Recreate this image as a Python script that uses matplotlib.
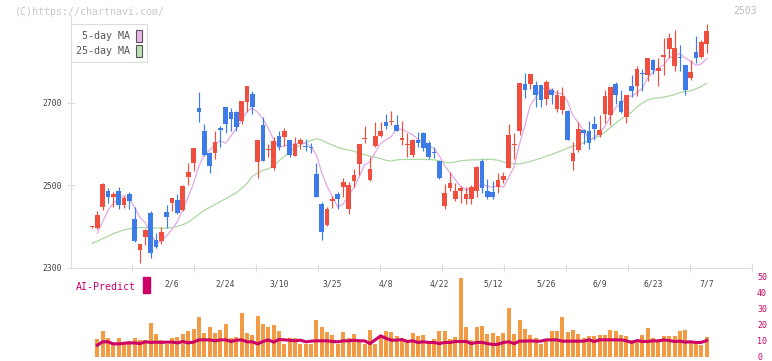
import numpy as np
import pandas as pd
import matplotlib
matplotlib.use("Agg")
import matplotlib.pyplot as plt
from matplotlib.patches import Patch, Rectangle

plt.rcParams['font.family'] = ['DejaVu Sans Mono']

# daily prices, oldest first (red = close above open, blue = close below open)
opens = [2399, 2398, 2449, 2487, 2472, 2487, 2453, 2479, 2419, 2344,
         2376, 2433, 2368, 2366, 2436, 2458, 2465, 2441, 2521, 2554,
         2688, 2632, 2579, 2578, 2639, 2690, 2677, 2678, 2657, 2701,
         2722, 2558, 2647, 2585, 2543, 2620, 2618, 2610, 2572, 2601,
         2596, 2593, 2528, 2454, 2404, 2463, 2479, 2496, 2443, 2512,
         2553, 2612, 2513, 2596, 2620, 2654, 2653, 2647, 2609, 2597,
         2575, 2610, 2627, 2603, 2580, 2559, 2451, 2495, 2466, 2487,
         2468, 2468, 2487, 2559, 2487, 2484, 2496, 2513, 2543, 2597,
         2632, 2746, 2747, 2744, 2744, 2710, 2732, 2686, 2684, 2681,
         2560, 2587, 2635, 2632, 2649, 2622, 2673, 2671, 2746, 2705,
         2666, 2741, 2741, 2772, 2768, 2804, 2778, 2812, 2831, 2790,
         2810, 2792, 2761, 2824, 2812, 2843]
highs = [2401, 2438, 2505, 2493, 2484, 2497, 2474, 2483, 2448, 2359,
         2394, 2437, 2384, 2400, 2453, 2470, 2479, 2501, 2555, 2591,
         2727, 2649, 2580, 2631, 2643, 2691, 2688, 2681, 2705, 2742,
         2728, 2611, 2666, 2601, 2618, 2632, 2639, 2611, 2617, 2616,
         2613, 2603, 2555, 2460, 2449, 2475, 2484, 2518, 2509, 2540,
         2601, 2644, 2570, 2654, 2654, 2673, 2681, 2671, 2656, 2627,
         2613, 2630, 2630, 2608, 2592, 2560, 2504, 2533, 2506, 2499,
         2496, 2500, 2547, 2564, 2516, 2511, 2530, 2533, 2649, 2627,
         2748, 2773, 2770, 2753, 2744, 2756, 2736, 2732, 2739, 2683,
         2605, 2654, 2637, 2656, 2669, 2671, 2732, 2739, 2751, 2732,
         2719, 2768, 2790, 2782, 2809, 2807, 2809, 2858, 2870, 2877,
         2841, 2792, 2804, 2862, 2853, 2892]
lows = [2397, 2395, 2440, 2458, 2447, 2442, 2445, 2444, 2363, 2313,
        2356, 2325, 2349, 2359, 2397, 2437, 2432, 2438, 2501, 2536,
        2653, 2571, 2529, 2563, 2593, 2628, 2633, 2633, 2648, 2677,
        2672, 2517, 2559, 2570, 2537, 2586, 2596, 2570, 2571, 2589,
        2584, 2578, 2471, 2369, 2402, 2446, 2444, 2473, 2431, 2496,
        2526, 2604, 2512, 2594, 2617, 2637, 2647, 2631, 2597, 2570,
        2570, 2592, 2584, 2565, 2567, 2516, 2444, 2487, 2463, 2458,
        2455, 2454, 2473, 2481, 2466, 2468, 2482, 2507, 2543, 2563,
        2622, 2712, 2734, 2689, 2691, 2694, 2698, 2679, 2674, 2609,
        2538, 2580, 2601, 2589, 2609, 2618, 2652, 2647, 2698, 2676,
        2652, 2715, 2717, 2729, 2753, 2770, 2740, 2768, 2809, 2778,
        2778, 2719, 2756, 2797, 2809, 2820]
closes = [2399, 2428, 2504, 2473, 2479, 2453, 2470, 2463, 2365, 2358,
          2392, 2337, 2352, 2387, 2424, 2470, 2434, 2499, 2533, 2590,
          2679, 2574, 2548, 2606, 2635, 2648, 2662, 2641, 2704, 2741,
          2690, 2610, 2560, 2589, 2608, 2592, 2632, 2573, 2601, 2610,
          2594, 2591, 2472, 2388, 2443, 2467, 2468, 2508, 2501, 2525,
          2601, 2615, 2540, 2620, 2632, 2645, 2654, 2633, 2615, 2601,
          2610, 2602, 2591, 2570, 2579, 2517, 2481, 2506, 2487, 2495,
          2479, 2496, 2545, 2495, 2473, 2473, 2513, 2523, 2622, 2599,
          2748, 2732, 2770, 2718, 2706, 2751, 2720, 2719, 2717, 2609,
          2579, 2637, 2626, 2604, 2637, 2635, 2717, 2739, 2718, 2678,
          2719, 2729, 2782, 2770, 2809, 2780, 2785, 2815, 2858, 2832,
          2808, 2732, 2775, 2809, 2848, 2875]
ma5_head = [np.nan, 2385, 2412, 2440]
ma25 = [2360, 2365, 2371, 2377, 2383, 2388, 2392, 2395, 2397, 2398,
        2398, 2397, 2397, 2396, 2397, 2398, 2401, 2405, 2411, 2420,
        2430, 2440, 2447, 2454, 2461, 2468, 2475, 2482, 2493, 2505,
        2522, 2530, 2537, 2540, 2548, 2560, 2570, 2582, 2591, 2598,
        2604, 2609, 2613, 2610, 2603, 2598, 2592, 2588, 2586, 2583,
        2578, 2575, 2571, 2568, 2565, 2561, 2559, 2562, 2563, 2563,
        2563, 2563, 2563, 2563, 2562, 2560, 2556, 2555, 2557, 2560,
        2561, 2562, 2562, 2563, 2563, 2563, 2561, 2557, 2554, 2553,
        2552, 2555, 2558, 2562, 2566, 2571, 2575, 2580, 2585, 2591,
        2595, 2598, 2603, 2610, 2615, 2620, 2630, 2640, 2651, 2661,
        2670, 2678, 2690, 2700, 2707, 2711, 2712, 2714, 2717, 2720,
        2725, 2728, 2729, 2734, 2740, 2747]

# volume panel (first day has no bar)
volume = [np.nan, 11.5, 16.5, 12.1, 8.4, 12.1, 8.4, 10.3, 12.1, 10.9,
          10.9, 21.4, 14.6, 10.9, 8.4, 12.1, 12.8, 14.6, 16.5, 17.7,
          25.1, 15.2, 18.9, 15.2, 17.1, 20.8, 12.1, 12.8, 27.6, 15.2,
          14.0, 25.7, 20.8, 18.9, 20.2, 16.5, 8.4, 12.1, 12.1, 8.4,
          8.4, 8.4, 23.3, 18.9, 15.8, 14.0, 8.4, 15.8, 12.1, 14.6,
          10.9, 8.4, 17.1, 8.4, 12.8, 16.5, 15.8, 13.4, 10.9, 10.9,
          15.2, 13.4, 14.0, 10.3, 11.5, 16.5, 16.5, 11.5, 12.8, 49.2,
          18.9, 10.9, 18.9, 19.5, 14.6, 15.2, 13.4, 15.2, 30.7, 14.6,
          23.3, 17.7, 14.0, 12.1, 8.4, 11.5, 16.5, 16.5, 25.1, 15.8,
          17.1, 14.6, 12.1, 13.4, 13.4, 14.0, 14.0, 17.1, 16.5, 14.0,
          13.4, 10.9, 9.5, 14.0, 18.3, 12.1, 10.5, 13.4, 13.4, 13.4,
          16.5, 17.1, 8.8, 8.8, 7.2, 12.8]
ai_predict = [np.nan, 7.4, 9.5, 9.5, 8.2, 8.2, 8.6, 8.8, 8.8, 8.4,
              9.5, 9.1, 9.3, 9.1, 9.3, 9.3, 8.8, 9.7, 8.8, 9.3,
              10.7, 10.7, 10.7, 10.1, 10.7, 10.7, 9.7, 10.5, 10.7, 9.5,
              9.5, 8.2, 9.7, 10.7, 9.3, 10.9, 10.7, 10.5, 10.1, 10.5,
              9.5, 9.9, 10.1, 10.1, 10.1, 9.7, 9.5, 10.1, 10.1, 10.5,
              10.1, 10.1, 8.4, 10.7, 13.2, 11.7, 10.5, 10.5, 10.9, 9.7,
              10.1, 9.1, 9.5, 9.1, 9.1, 8.4, 9.1, 9.1, 9.7, 9.7,
              9.7, 8.4, 9.1, 9.1, 8.4, 7.8, 8.0, 9.1, 9.5, 8.4,
              9.9, 9.9, 10.1, 9.9, 9.9, 10.7, 10.7, 10.7, 9.9, 9.9,
              9.9, 9.9, 9.9, 10.7, 9.7, 10.7, 10.7, 10.7, 10.7, 10.7,
              10.1, 9.1, 10.3, 9.7, 9.7, 10.1, 10.1, 10.7, 10.3, 9.7,
              9.9, 9.3, 9.5, 9.1, 9.1, 10.3]

date_pos = [15, 25, 35, 45, 55, 65, 75, 85, 95, 105, 115]
date_labels = ['2/6', '2/24', '3/10', '3/25', '4/8', '4/22',
               '5/12', '5/26', '6/9', '6/23', '7/7']

UP = '#f04f3f'
DOWN = '#3d7be8'
GRID = '#dddddd'
CRIMSON = '#cc0066'

W, H = 772, 361
fig = plt.figure(figsize=(W / 100, H / 100), dpi=100)


def px_axes(x0, y0, x1, y1):
    return fig.add_axes([x0 / W, 1 - y1 / H, (x1 - x0) / W, (y1 - y0) / H])


ax = px_axes(70.5, 15, 752, 268)
ax2 = px_axes(70.5, 277, 752, 357)

idx = np.arange(len(closes))
o = np.array(opens, float)
c = np.array(closes, float)
col = np.where(c >= o, UP, DOWN)

ma5 = pd.Series(closes, dtype=float).rolling(5).mean().to_numpy()
ma5[:4] = ma5_head

ax.plot(idx, ma25, color='#acd8a2', lw=0.9, zorder=1)
ax.plot(idx, ma5, color='#e4a8e6', lw=0.9, zorder=1)
ax.vlines(idx, lows, highs, colors=col, lw=0.85, zorder=2)
ax.bar(idx, np.maximum(np.abs(c - o), 2.5), bottom=np.minimum(o, c),
       width=0.88, color=col, lw=0, zorder=3)

xmin, xmax = -4.02, 123.5
ax.set_xlim(xmin, xmax)
ax.set_ylim(2300, 2913)
ax.set_yticks([2300, 2500, 2700])
ax.tick_params(axis='y', direction='inout', length=5.8, width=0.8,
               color=GRID, labelsize=5.8, labelcolor='#444444', pad=3)
ax.set_xticks(np.arange(7.5, 124, 11.6))
ax.tick_params(axis='x', which='major', direction='inout', length=6,
               width=0.8, color=GRID, labelbottom=False)
ax.set_xticks(date_pos, minor=True)
ax.set_xticklabels(date_labels, minor=True)
ax.tick_params(axis='x', which='minor', length=0, pad=8,
               labelsize=5.8, labelcolor='#444444')
for s in ['top', 'right']:
    ax.spines[s].set_visible(False)
for s in ['left', 'bottom']:
    ax.spines[s].set_color(GRID)
    ax.spines[s].set_linewidth(0.8)

handles = [Patch(facecolor='#ebb7eb', edgecolor='#555555', lw=0.8),
           Patch(facecolor='#bde0b5', edgecolor='#555555', lw=0.8)]
leg = ax.legend(handles, ['5-day MA', '25-day MA'], loc='upper left',
                bbox_to_anchor=(0, 0.963), borderaxespad=0, markerfirst=False,
                frameon=True, fancybox=False, edgecolor=GRID, framealpha=1,
                prop={'size': 7.2}, labelcolor='#555555', handlelength=0.55,
                handleheight=1.5, handletextpad=0.6, labelspacing=0.25,
                borderpad=0.55)
leg.get_frame().set_linewidth(0.8)

ax2.bar(idx, volume, width=0.75, color='#f39a45', lw=0, zorder=1)
ax2.plot(idx, ai_predict, color=CRIMSON, lw=2.2, zorder=2)
ax2.set_xlim(xmin, xmax)
ax2.set_ylim(0, 50)
ax2.set_xticks([])
ax2.set_yticks([0, 10, 20, 30, 40, 50])
ax2.yaxis.tick_right()
ax2.tick_params(axis='y', length=0, pad=3.6, labelsize=6, labelcolor=CRIMSON)
for s in ax2.spines.values():
    s.set_visible(False)
ax2.patch.set_alpha(0)

fig.text(76 / W, 1 - 286.5 / H, 'AI-Predict', color=CRIMSON, fontsize=7.2,
         va='center', ha='left')
fig.patches.append(Rectangle((142.5 / W, 1 - 293 / H), 7 / W, 16 / H,
                             transform=fig.transFigure, color=CRIMSON))
fig.text(14.5 / W, 1 - 12 / H, '(C)https://chartnavi.com/', color='#c8c8c8',
         fontsize=7.2, va='center', ha='left')
fig.text(757 / W, 1 - 11 / H, '2503', color='#bbbbbb', fontsize=7,
         va='center', ha='right')

fig.savefig('out.png', dpi=100)
